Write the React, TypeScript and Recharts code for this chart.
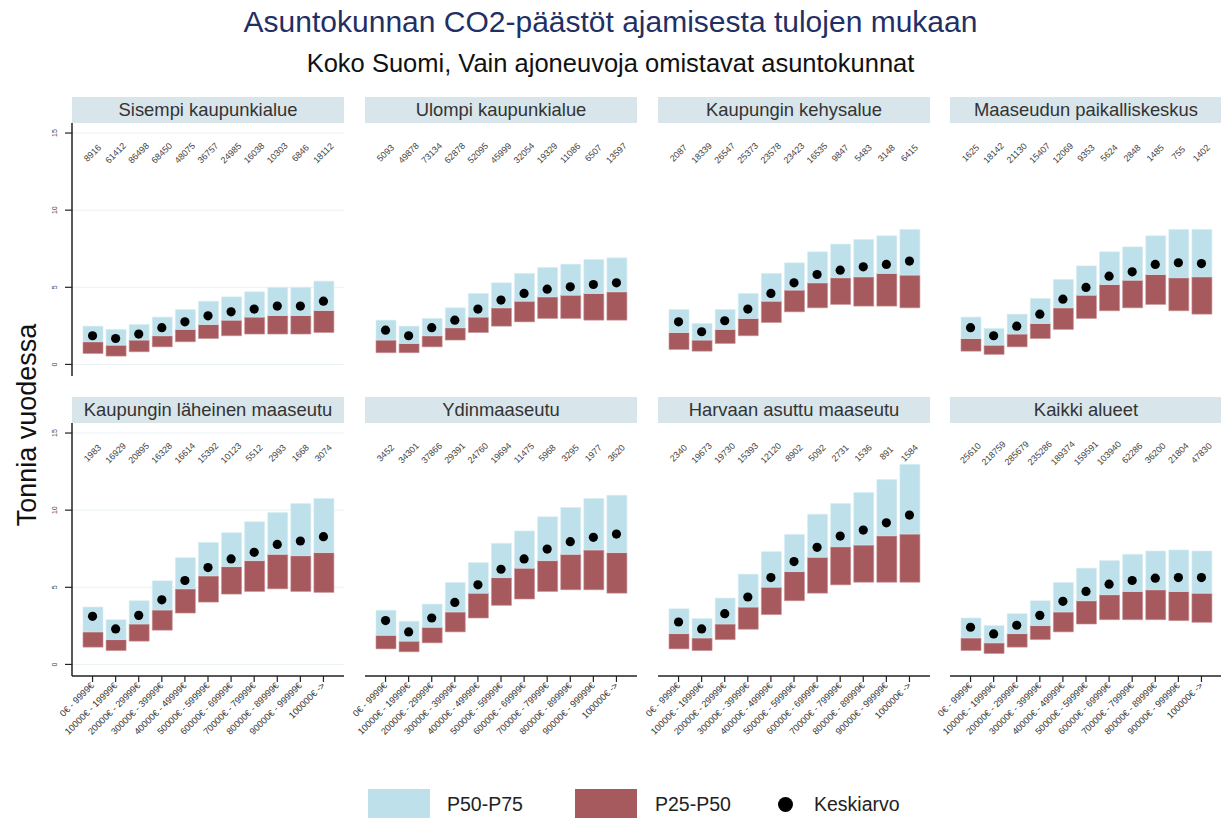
import { Bar, CartesianGrid, ComposedChart, Scatter, XAxis, YAxis } from "recharts";

const incomeLabels = [
  "0€ - 9999€",
  "10000€ - 19999€",
  "20000€ - 29999€",
  "30000€ - 39999€",
  "40000€ - 49999€",
  "50000€ - 59999€",
  "60000€ - 69999€",
  "70000€ - 79999€",
  "80000€ - 89999€",
  "90000€ - 99999€",
  "100000€ ->",
];
const yTicks = [0, 5, 10, 15];

// Sisempi kaupunkialue
const sisempiN = [8916, 61412, 86498, 68450, 48075, 36757, 24985, 16038, 10303, 6846, 18112];
const sisempiP25 = [0.71, 0.54, 0.82, 1.14, 1.47, 1.68, 1.86, 1.97, 1.97, 1.97, 2.07];
const sisempiP50 = [1.47, 1.25, 1.58, 1.86, 2.27, 2.59, 2.87, 3.07, 3.17, 3.17, 3.5];
const sisempiP75 = [2.48, 2.27, 2.59, 3.07, 3.56, 4.1, 4.38, 4.71, 4.99, 4.99, 5.4];
const sisempiMean = [1.86, 1.68, 1.97, 2.38, 2.76, 3.15, 3.41, 3.59, 3.78, 3.78, 4.1];

// Ulompi kaupunkialue
const ulompiN = [5093, 49878, 73134, 62878, 52095, 45999, 32054, 19329, 11086, 6507, 13597];
const ulompiP25 = [0.76, 0.76, 1.14, 1.58, 2.07, 2.48, 2.76, 2.98, 2.98, 2.87, 2.87];
const ulompiP50 = [1.58, 1.36, 1.86, 2.38, 3.07, 3.67, 4.1, 4.38, 4.49, 4.6, 4.71];
const ulompiP75 = [2.87, 2.48, 2.98, 3.67, 4.6, 5.29, 5.9, 6.29, 6.5, 6.8, 6.91];
const ulompiMean = [2.22, 1.86, 2.38, 2.87, 3.59, 4.17, 4.6, 4.88, 5.03, 5.18, 5.29];

// Kaupungin kehysalue
const kehysN = [2087, 18339, 26547, 25373, 23578, 23423, 16535, 9847, 5483, 3148, 6415];
const kehysP25 = [0.97, 0.86, 1.36, 1.86, 2.72, 3.41, 3.67, 3.89, 3.78, 3.78, 3.67];
const kehysP50 = [2.07, 1.58, 2.27, 2.98, 4.1, 4.82, 5.29, 5.62, 5.68, 5.9, 5.79];
const kehysP75 = [3.56, 2.66, 3.56, 4.6, 5.9, 6.59, 7.3, 7.8, 8.1, 8.34, 8.75];
const kehysMean = [2.76, 2.12, 2.83, 3.59, 4.6, 5.29, 5.83, 6.11, 6.33, 6.48, 6.7];

// Maaseudun paikalliskeskus
const paikallisN = [1625, 18142, 21130, 15407, 12069, 9353, 5624, 2848, 1485, 755, 1402];
const paikallisP25 = [0.86, 0.65, 1.14, 1.68, 2.27, 2.98, 3.48, 3.67, 3.89, 3.48, 3.26];
const paikallisP50 = [1.68, 1.25, 1.97, 2.66, 3.67, 4.49, 5.18, 5.46, 5.83, 5.62, 5.68];
const paikallisP75 = [3.07, 2.33, 3.26, 4.28, 5.51, 6.39, 7.3, 7.62, 8.34, 8.75, 8.75];
const paikallisMean = [2.38, 1.86, 2.48, 3.26, 4.23, 4.99, 5.72, 6.0, 6.48, 6.59, 6.54];

// Kaupungin läheinen maaseutu
const laheinenN = [1983, 16929, 20895, 16328, 16614, 15392, 10123, 5512, 2993, 1668, 3074];
const laheinenP25 = [1.12, 0.9, 1.51, 2.22, 3.33, 4.04, 4.56, 4.73, 4.9, 4.73, 4.67];
const laheinenP50 = [2.11, 1.61, 2.62, 3.53, 4.9, 5.74, 6.34, 6.73, 7.14, 7.05, 7.25];
const laheinenP75 = [3.72, 2.9, 4.13, 5.42, 6.92, 7.91, 8.54, 9.25, 9.85, 10.43, 10.75];
const laheinenMean = [3.12, 2.3, 3.18, 4.19, 5.44, 6.28, 6.84, 7.27, 7.78, 8.0, 8.28];

// Ydinmaaseutu
const ydinN = [3452, 34301, 37866, 29391, 24760, 19694, 11475, 5968, 3295, 1977, 3620];
const ydinP25 = [1.01, 0.82, 1.4, 2.11, 3.01, 3.83, 4.24, 4.73, 4.84, 4.84, 4.62];
const ydinP50 = [1.89, 1.51, 2.41, 3.4, 4.62, 5.63, 6.24, 6.73, 7.14, 7.42, 7.25];
const ydinP75 = [3.51, 2.8, 3.91, 5.31, 6.6, 7.85, 8.65, 9.57, 10.17, 10.75, 10.97];
const ydinMean = [2.84, 2.11, 3.01, 4.02, 5.16, 6.17, 6.84, 7.48, 7.96, 8.24, 8.45];

// Harvaan asuttu maaseutu
const harvaanN = [2340, 19673, 19730, 15393, 12120, 8902, 5092, 2731, 1536, 891, 1584];
const harvaanP25 = [1.01, 0.9, 1.61, 2.28, 3.23, 4.13, 4.62, 5.16, 5.33, 5.33, 5.33];
const harvaanP50 = [2.0, 1.72, 2.62, 3.72, 5.01, 6.02, 6.95, 7.63, 7.74, 8.34, 8.45];
const harvaanP75 = [3.61, 2.97, 4.3, 5.85, 7.31, 8.43, 9.74, 10.43, 11.14, 11.98, 12.97];
const harvaanMean = [2.75, 2.3, 3.29, 4.37, 5.63, 6.67, 7.59, 8.32, 8.71, 9.18, 9.68];

// Kaikki alueet
const kaikkiN = [25610, 218759, 285679, 235286, 189374, 159591, 103940, 62286, 36200, 21804, 47830];
const kaikkiP25 = [0.9, 0.71, 1.12, 1.61, 2.11, 2.62, 2.9, 2.9, 2.9, 2.84, 2.73];
const kaikkiP50 = [1.72, 1.4, 2.0, 2.52, 3.4, 4.13, 4.52, 4.73, 4.84, 4.73, 4.62];
const kaikkiP75 = [3.01, 2.52, 3.29, 4.13, 5.31, 6.24, 6.73, 7.14, 7.35, 7.42, 7.35];
const kaikkiMean = [2.41, 1.98, 2.54, 3.18, 4.09, 4.73, 5.2, 5.44, 5.59, 5.63, 5.63];

const regions = [
  { name: "Sisempi kaupunkialue", n: sisempiN, p25: sisempiP25, p50: sisempiP50, p75: sisempiP75, mean: sisempiMean },
  { name: "Ulompi kaupunkialue", n: ulompiN, p25: ulompiP25, p50: ulompiP50, p75: ulompiP75, mean: ulompiMean },
  { name: "Kaupungin kehysalue", n: kehysN, p25: kehysP25, p50: kehysP50, p75: kehysP75, mean: kehysMean },
  { name: "Maaseudun paikalliskeskus", n: paikallisN, p25: paikallisP25, p50: paikallisP50, p75: paikallisP75, mean: paikallisMean },
  { name: "Kaupungin läheinen maaseutu", n: laheinenN, p25: laheinenP25, p50: laheinenP50, p75: laheinenP75, mean: laheinenMean },
  { name: "Ydinmaaseutu", n: ydinN, p25: ydinP25, p50: ydinP50, p75: ydinP75, mean: ydinMean },
  { name: "Harvaan asuttu maaseutu", n: harvaanN, p25: harvaanP25, p50: harvaanP50, p75: harvaanP75, mean: harvaanMean },
  { name: "Kaikki alueet", n: kaikkiN, p25: kaikkiP25, p50: kaikkiP50, p75: kaikkiP75, mean: kaikkiMean },
];

const FONT = '"Liberation Sans", Arial, sans-serif';
const BLUE = "#bde0ea";
const RED = "#a65a5e";
const STRIP = "#d8e5eb";
const GRID = "#e9f1f4";

const COL_LEFT = [72, 365, 658, 950];
const ROW_TOP = [97, 397];
const STRIP_H = 26;
const PLOT_W = 272;
const PLOT_H = 253;
const Y_AXIS_W = 40;
const X_AXIS_H = 90;
const COUNT_ROW_Y = 13.7;

function YTick({ x, y, payload }: any) {
  return (
    <text x={x} y={y} transform={`rotate(-90 ${x} ${y})`} textAnchor="middle" fontSize={7} fill="#444" fontFamily={FONT}>
      {payload.value}
    </text>
  );
}

function XTick({ x, y, payload }: any) {
  return (
    <text x={x} y={y} dy={3} transform={`rotate(-45 ${x} ${y})`} textAnchor="end" fontSize={9.2} fill="#333" fontFamily={FONT}>
      {payload.value}
    </text>
  );
}

function Panel({ region, row, col }: { region: (typeof regions)[number]; row: number; col: number }) {
  const data = incomeLabels.map((label, i) => ({
    label,
    base: region.p25[i],
    low: region.p50[i] - region.p25[i],
    high: region.p75[i] - region.p50[i],
    mean: region.mean[i],
    count: region.n[i],
    countY: COUNT_ROW_Y,
  }));
  const leftAxis = col === 0;
  const bottomAxis = row === 1;
  const width = PLOT_W + Y_AXIS_W;
  const height = PLOT_H + (bottomAxis ? X_AXIS_H : 0);
  const top = ROW_TOP[row];

  return (
    <>
      <div
        style={{
          position: "absolute",
          left: COL_LEFT[col],
          top,
          width: PLOT_W,
          height: STRIP_H,
          background: STRIP,
          color: "#333",
          fontSize: 18.4,
          lineHeight: `${STRIP_H}px`,
          textAlign: "center",
          whiteSpace: "nowrap",
          overflow: "hidden",
        }}
      >
        {region.name}
      </div>
      <div style={{ position: "absolute", left: COL_LEFT[col] - Y_AXIS_W, top: top + STRIP_H }}>
        <ComposedChart width={width} height={height} data={data} margin={{ top: 0, right: 0, bottom: 0, left: 0 }}>
          <CartesianGrid vertical={false} horizontalValues={yTicks} stroke={GRID} strokeWidth={1} />
          <XAxis
            dataKey="label"
            hide={!bottomAxis}
            height={X_AXIS_H}
            interval={0}
            padding={{ left: 9, right: 9 }}
            axisLine={{ stroke: "#222", strokeWidth: 1.5 }}
            tickLine={{ stroke: "#222", strokeWidth: 1.2 }}
            tickSize={6}
            tick={<XTick />}
          />
          <YAxis
            type="number"
            domain={[-0.75, 15.65]}
            allowDataOverflow
            ticks={yTicks}
            width={Y_AXIS_W}
            axisLine={leftAxis ? { stroke: "#222", strokeWidth: 1.5 } : false}
            tickLine={leftAxis ? { stroke: "#222", strokeWidth: 1.2 } : false}
            tickSize={7}
            tickMargin={8}
            tick={leftAxis ? <YTick /> : false}
          />
          <Bar dataKey="base" stackId="q" fill="transparent" barSize={20} isAnimationActive={false} />
          <Bar dataKey="low" stackId="q" fill={RED} stroke="#c98f92" strokeWidth={0.6} barSize={20} isAnimationActive={false} />
          <Bar dataKey="high" stackId="q" fill={BLUE} stroke="#d6eef4" strokeWidth={0.6} barSize={20} isAnimationActive={false} />
          <Scatter
            dataKey="mean"
            isAnimationActive={false}
            shape={(p: any) => <circle cx={p.cx} cy={p.cy} r={4.6} fill="#000" />}
          />
          <Scatter
            dataKey="countY"
            isAnimationActive={false}
            shape={(p: any) => (
              <text
                x={p.cx}
                y={p.cy}
                dy={3}
                transform={`rotate(-45 ${p.cx} ${p.cy})`}
                textAnchor="middle"
                fontSize={9}
                fill="#444"
                fontFamily={FONT}
              >
                {p.payload.count}
              </text>
            )}
          />
        </ComposedChart>
      </div>
    </>
  );
}

export default function App() {
  return (
    <div
      style={{
        position: "absolute",
        left: 0,
        top: 0,
        width: 1221,
        height: 818,
        overflow: "hidden",
        background: "#fff",
        fontFamily: FONT,
      }}
    >
      <div style={{ position: "absolute", left: 0, width: 1221, top: 4, textAlign: "center", fontSize: 30, lineHeight: "36px", color: "#1f3064" }}>
        Asuntokunnan CO2-päästöt ajamisesta tulojen mukaan
      </div>
      <div style={{ position: "absolute", left: 0, width: 1221, top: 48, textAlign: "center", fontSize: 25.5, lineHeight: "30px", color: "#111" }}>
        Koko Suomi, Vain ajoneuvoja omistavat asuntokunnat
      </div>
      <div
        style={{
          position: "absolute",
          left: 27,
          top: 425,
          transform: "translate(-50%, -50%) rotate(-90deg)",
          fontSize: 27,
          whiteSpace: "nowrap",
          color: "#111",
        }}
      >
        Tonnia vuodessa
      </div>

      {regions.map((r, i) => (
        <Panel key={r.name} region={r} row={Math.floor(i / 4)} col={i % 4} />
      ))}

      {/* shared legend */}
      <div style={{ position: "absolute", left: 368, top: 789, width: 62, height: 34, background: BLUE }} />
      <div style={{ position: "absolute", left: 447, top: 791, fontSize: 19.5, lineHeight: "26px", color: "#222" }}>P50-P75</div>
      <div style={{ position: "absolute", left: 575, top: 789, width: 62, height: 34, background: RED }} />
      <div style={{ position: "absolute", left: 655, top: 791, fontSize: 19.5, lineHeight: "26px", color: "#222" }}>P25-P50</div>
      <div style={{ position: "absolute", left: 778, top: 797, width: 15, height: 15, borderRadius: "50%", background: "#000" }} />
      <div style={{ position: "absolute", left: 814, top: 791, fontSize: 19.5, lineHeight: "26px", color: "#222" }}>Keskiarvo</div>
    </div>
  );
}
